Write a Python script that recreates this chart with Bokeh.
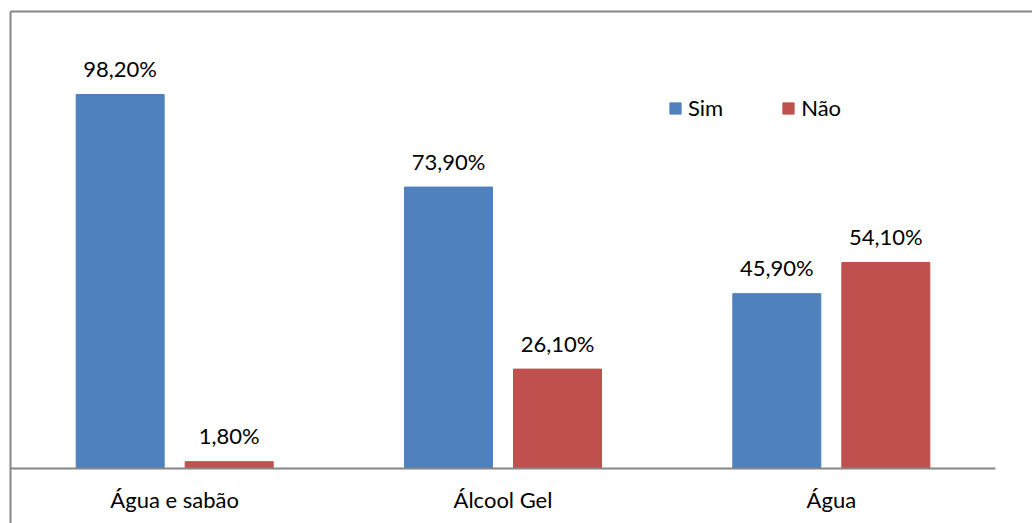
from bokeh.plotting import figure
from bokeh.models import (ColumnDataSource, Range1d, LinearAxis, FixedTicker,
                          Legend, LegendItem)
from bokeh.core.properties import value
from bokeh.embed import file_html
from bokeh.resources import INLINE

categories = ["Água e sabão", "Álcool Gel", "Água"]
sim = [98.2, 73.9, 45.9]
nao = [1.8, 26.1, 54.1]
series_names = ["Sim", "Não"]

def fmt(v):
    return f"{v:.2f}".replace(".", ",") + "%"

BLUE = "#4F81BD"
RED = "#C0504D"
GRAY = "#868686"
FONT = "Lato"
FS = "22px"

n = len(categories)
centers = [i + 0.5 for i in range(n)]
off = 0.166
bw = 0.268

src_sim = ColumnDataSource(dict(x=[c - off for c in centers], top=sim,
                                lab=[fmt(v) for v in sim]))
src_nao = ColumnDataSource(dict(x=[c + off for c in centers], top=nao,
                                lab=[fmt(v) for v in nao]))
src_cat = ColumnDataSource(dict(x=centers, y=[0] * n, lab=categories))

p = figure(width=1032, height=523, output_backend="svg", toolbar_location=None,
           x_range=Range1d(0, 3.1127), y_range=Range1d(-14.44, 120),
           min_border_left=10, min_border_top=11, min_border_right=0,
           min_border_bottom=0, x_axis_location=None, y_axis_location=None)
p.grid.visible = False
p.outline_line_color = None
p.background_fill_color = "white"
p.border_fill_color = "white"

# frame border lines (left and top)
for loc in ("left", "above"):
    ax = LinearAxis(ticker=FixedTicker(ticks=[]), axis_line_color=GRAY,
                    axis_line_width=2, major_tick_line_color=None,
                    minor_tick_line_color=None, major_label_text_font_size="0px")
    p.add_layout(ax, loc)

r1 = p.vbar(x="x", top="top", width=bw, source=src_sim, fill_color=BLUE,
            line_color=BLUE)
r2 = p.vbar(x="x", top="top", width=bw, source=src_nao, fill_color=RED,
            line_color=RED)

# baseline axis
p.segment(x0=[0], y0=[0], x1=[n], y1=[0], line_color=GRAY, line_width=2)

for s in (src_sim, src_nao):
    p.text(x="x", y="top", text="lab", source=s, text_align="center",
           text_baseline="alphabetic", y_offset=-26, text_font=value(FONT),
           text_font_size=FS, text_color="#000000")

p.text(x="x", y="y", text="lab", source=src_cat, text_align="center",
       text_baseline="alphabetic", y_offset=31, text_font=value(FONT),
       text_font_size=FS, text_color="#000000")

legend = Legend(items=[LegendItem(label=series_names[0], renderers=[r1]),
                       LegendItem(label=series_names[1], renderers=[r2])],
                orientation="horizontal", location=(658, 402),
                glyph_width=14, glyph_height=14, label_standoff=6,
                spacing=58, padding=0, margin=0,
                border_line_color=None, background_fill_alpha=0,
                label_text_font=FONT, label_text_font_size=FS,
                label_text_color="#000000")
p.add_layout(legend, "center")

open("out.html", "w").write(file_html(p, INLINE))
